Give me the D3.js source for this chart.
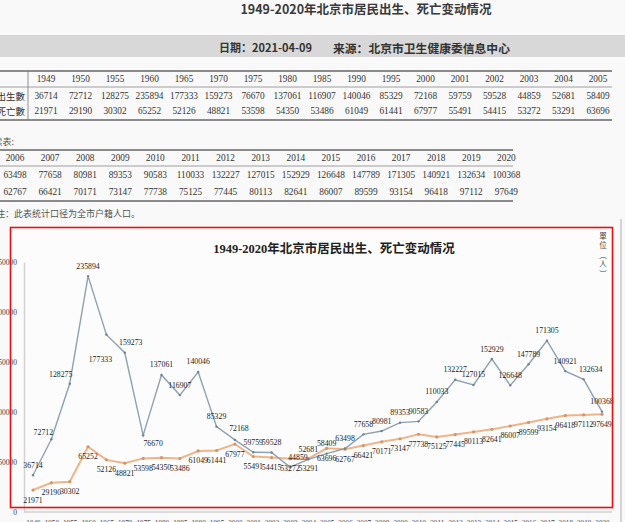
<!DOCTYPE html>
<html><head><meta charset="utf-8">
<script src="https://cdn.jsdelivr.net/npm/d3@7/dist/d3.min.js"></script>
<style>
html,body{margin:0;padding:0;background:#f9f9f9;overflow:hidden;}
svg{display:block;}
</style></head>
<body><svg id="c" width="625" height="522"></svg>
<script>
const pageTitle = "1949-2020年北京市居民出生、死亡变动情况";
const dateText = "日期：2021-04-09";
const sourceText = "来源：北京市卫生健康委信息中心";
const rowLabels = ["出生數", "死亡數"];
const contText = "续表:";
const noteText = "注：此表统计口径为全市户籍人口。";
const unitChars = ["單", "位", "︵", "人", "︶"];

const years = ["1949","1950","1955","1960","1965","1970","1975","1980","1985","1990","1995","2000",
  "2001","2002","2003","2004","2005","2006","2007","2008","2009","2010","2011","2012","2013",
  "2014","2015","2016","2017","2018","2019","2020"];
const births = [36714,72712,128275,235894,177333,159273,76670,137061,116907,140046,85329,72168,
  59759,59528,44859,52681,58409,63498,77658,80981,89353,90583,110033,132227,127015,
  152929,126648,147789,171305,140921,132634,100368];
const deaths = [21971,29190,30302,65252,52126,48821,53598,54350,53486,61049,61441,67977,
  55491,54415,53272,53291,63696,62767,66421,70171,73147,77738,75125,77445,80113,
  82641,86007,89599,93154,96418,97112,97649];
const yTicks = [0,50000,100000,150000,200000,250000];

const svg = d3.select("#c");
const SANS = "'Noto Sans CJK SC','Noto Sans',sans-serif";
const SERIF = "'Liberation Serif','Noto Sans CJK TC',serif";

// header
svg.append("text").attr("x",366).attr("y",8).attr("text-anchor","middle")
  .attr("dominant-baseline","central").attr("font-family",SANS).attr("font-weight","bold")
  .attr("font-size",12.5).attr("fill","#3a3a3a").text(pageTitle);
svg.append("rect").attr("x",0).attr("y",35).attr("width",625).attr("height",22).attr("fill","#d8d8d8");
svg.append("text").attr("x",219).attr("y",47).attr("dominant-baseline","central")
  .attr("font-family",SANS).attr("font-weight","bold").attr("font-size",11).attr("fill","#333").text(dateText);
svg.append("text").attr("x",333).attr("y",47).attr("dominant-baseline","central")
  .attr("font-family",SANS).attr("font-weight","bold").attr("font-size",11.8).attr("fill","#333").text(sourceText);

// tables
function drawTable(cols, x0, step, right, yTop, yHead, yMid, yR1, yR2, yBot, labels, sep) {
  const g = svg.append("g").attr("font-family",SERIF).attr("fill","#333");
  const xs = d3.scalePoint().domain(cols).range([x0, x0 + step*(cols.length-1)]);
  g.append("line").attr("x1",0).attr("x2",right).attr("y1",yTop).attr("y2",yTop).attr("stroke","#666").attr("stroke-width",1.6);
  g.append("line").attr("x1",0).attr("x2",right).attr("y1",yMid).attr("y2",yMid).attr("stroke","#888").attr("stroke-width",0.8);
  g.append("line").attr("x1",0).attr("x2",right).attr("y1",yBot).attr("y2",yBot).attr("stroke","#666").attr("stroke-width",1.6);
  if (sep) g.append("line").attr("x1",sep).attr("x2",sep).attr("y1",yTop).attr("y2",yBot).attr("stroke","#777").attr("stroke-width",0.8);
  cols.forEach(c => {
    const i = years.indexOf(c);
    g.append("text").attr("x",xs(c)).attr("y",yHead).attr("text-anchor","middle").attr("dominant-baseline","central").attr("font-size",9.3).text(c);
    g.append("text").attr("x",xs(c)).attr("y",yR1).attr("text-anchor","middle").attr("dominant-baseline","central").attr("font-size",9.3).text(births[i]);
    g.append("text").attr("x",xs(c)).attr("y",yR2).attr("text-anchor","middle").attr("dominant-baseline","central").attr("font-size",9.3).text(deaths[i]);
  });
  if (labels) {
    g.append("text").attr("x",sep-3).attr("y",yR1).attr("text-anchor","end").attr("dominant-baseline","central").attr("font-size",9.5).attr("font-family","'Noto Sans CJK TC',sans-serif").text(rowLabels[0]);
    g.append("text").attr("x",sep-3).attr("y",yR2).attr("text-anchor","end").attr("dominant-baseline","central").attr("font-size",9.5).attr("font-family","'Noto Sans CJK TC',sans-serif").text(rowLabels[1]);
  }
}
drawTable(years.slice(0,17), 46, 34.5, 612, 71, 79, 87, 96, 111, 120, true, 28);
svg.append("text").attr("x",14).attr("y",141).attr("text-anchor","end").attr("dominant-baseline","central")
  .attr("font-family",SANS).attr("font-size",9).attr("fill","#555").text(contText);
drawTable(years.slice(17), 15, 35.1, 513, 150, 158, 166, 175, 192, 201, false, 0);
svg.append("text").attr("x",-4).attr("y",213).attr("dominant-baseline","central")
  .attr("font-family",SANS).attr("font-size",9).attr("fill","#555").text(noteText);

// right border line
svg.append("line").attr("x1",621).attr("x2",621).attr("y1",219).attr("y2",522).attr("stroke","#bbb").attr("stroke-width",1.2);

// chart
const x = d3.scalePoint().domain(years).range([33, 602]);
const y = d3.scaleLinear().domain([0, 250000]).range([512, 262]);

svg.append("rect").attr("x",11).attr("y",228).attr("width",601).attr("height",279).attr("fill","#fcfcfd");

svg.append("text").attr("x",334).attr("y",249).attr("text-anchor","middle").attr("dominant-baseline","central")
  .attr("font-family","'Liberation Serif','Noto Sans CJK SC',serif").attr("font-weight","bold")
  .attr("font-size",12.5).attr("fill","#222").text(pageTitle);

unitChars.forEach((ch,i) => {
  svg.append("text").attr("x",603).attr("y",235 + i*9.5).attr("text-anchor","middle").attr("dominant-baseline","central")
    .attr("font-family","'Noto Sans CJK TC',sans-serif").attr("font-size",7.5).attr("fill","#444").text(ch);
});

// axes
const yAxis = d3.axisLeft(y).tickValues(yTicks).tickSize(0).tickPadding(7).tickFormat(d3.format("d"));
const gy = svg.append("g").attr("transform","translate(24,0)").call(yAxis);
gy.select(".domain").attr("stroke","#d2d2d2").attr("stroke-width",1.5);
gy.selectAll("text").attr("font-family",SERIF).attr("font-size",7.5).attr("fill","#444");

const xAxis = d3.axisBottom(x).tickSize(0).tickPadding(9);
const gx = svg.append("g").attr("transform","translate(0,512)").call(xAxis);
gx.select(".domain").attr("d","M24,0H612").attr("stroke","#d2d2d2").attr("stroke-width",1.5);
gx.selectAll("text").attr("font-family",SERIF).attr("font-size",7.2).attr("fill","#444");

// lines
const lineB = d3.line().x((d,i)=>x(years[i])).y(d=>y(d));
svg.append("path").datum(deaths).attr("d",lineB).attr("fill","none").attr("stroke","#f0b489").attr("stroke-width",2);
svg.append("path").datum(births).attr("d",lineB).attr("fill","none").attr("stroke","#8ea2b2").attr("stroke-width",1.4);
svg.append("g").selectAll("circle").data(deaths).join("circle")
  .attr("cx",(d,i)=>x(years[i])).attr("cy",d=>y(d)).attr("r",1.6).attr("fill","#d89368");
svg.append("g").selectAll("circle").data(births).join("circle")
  .attr("cx",(d,i)=>x(years[i])).attr("cy",d=>y(d)).attr("r",1.2).attr("fill","#6f8291");

// data labels
const bOff = {"1950":[-8,3],"1955":[-9,1],"1965":[-6,35],"1970":[6,0],"1975":[10,18],"2003":[8,0],"2019":[7,0],"2000":[4,-1]};
svg.append("g").selectAll("text").data(births).join("text")
  .attr("x",(d,i)=>x(years[i]) + (bOff[years[i]]?bOff[years[i]][0]:0))
  .attr("y",(d,i)=>y(d) - 10 + (bOff[years[i]]?bOff[years[i]][1]:0))
  .attr("text-anchor","middle").attr("dominant-baseline","central")
  .attr("font-family",SERIF).attr("font-size",7.8).attr("fill","#222").text(d=>d);
svg.append("g").selectAll("text").data(deaths).join("text")
  .attr("x",(d,i)=>x(years[i]))
  .attr("y",(d,i)=>y(d) + 10)
  .attr("text-anchor","middle").attr("dominant-baseline","central")
  .attr("font-family",SERIF).attr("font-size",7.8).attr("fill","#222").text(d=>d);

// red frame
svg.append("rect").attr("x",10.5).attr("y",227.5).attr("width",602).attr("height",280)
  .attr("fill","none").attr("stroke","#e81010").attr("stroke-width",1.6);
</script></body></html>
